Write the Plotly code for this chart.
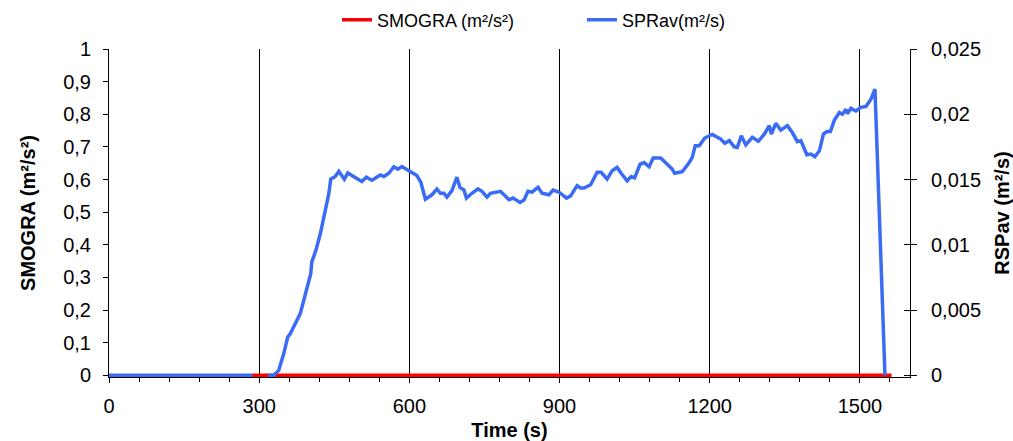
import plotly.graph_objects as go

# ---- data ----
time_rspav = [0, 286, 300, 318, 329, 339, 349, 357, 362, 372, 382, 389, 403, 405, 413, 422, 432, 439,
              443, 452, 459, 470, 477, 489, 505, 514, 525, 542, 549, 559, 569, 577, 585, 599,
              615, 623, 632, 645, 655, 662, 669, 675, 685, 695, 701, 709, 714, 725, 737, 745,
              755, 762, 782, 799, 807, 821, 829, 837, 845, 857, 865, 879, 887, 899, 914, 922,
              935, 942, 949, 962, 975, 983, 995, 1005, 1015, 1023, 1035, 1043, 1050, 1061, 1069,
              1079, 1087, 1102, 1115, 1125, 1130, 1145, 1159, 1165, 1171, 1179, 1190, 1205, 1222,
              1230, 1239, 1249, 1255, 1263, 1272, 1285, 1297, 1309, 1319, 1323, 1332, 1342, 1355,
              1365, 1375, 1382, 1394, 1402, 1410, 1419, 1427, 1434, 1441, 1449, 1459, 1465, 1472,
              1475, 1482, 1492, 1502, 1512, 1522, 1530, 1550]
rspav = [0, 0, None, 0, 0, 0.00038, 0.00165, 0.00293, 0.00318, 0.00395, 0.00473, 0.00573, 0.00778,
         0.00868, 0.00955, 0.01083, 0.01263, 0.0139,
         0.01503, 0.01523, 0.01563, 0.01503, 0.0155, 0.01525, 0.01485, 0.01518, 0.01495, 0.01535,
         0.01523, 0.01548, 0.01598, 0.0158, 0.016, 0.01568,
         0.0153, 0.01478, 0.0135, 0.01383, 0.01428, 0.01395, 0.01395, 0.01365, 0.01415, 0.01518,
         0.0144, 0.0142, 0.01358, 0.01395, 0.01428, 0.0141,
         0.01365, 0.01395, 0.0141, 0.01345, 0.01358, 0.01325, 0.01343, 0.0141, 0.01403, 0.0144,
         0.01395, 0.01383, 0.0142, 0.01403, 0.01358, 0.01375,
         0.01453, 0.01435, 0.01435, 0.0146, 0.01555, 0.01555, 0.01503, 0.01568, 0.01593, 0.01548,
         0.0149, 0.01523, 0.01513, 0.01618, 0.0163,
         0.01598, 0.01665, 0.01665, 0.01613, 0.0158, 0.01548, 0.0156, 0.0163, 0.0167, 0.01758,
         0.01758, 0.01818, 0.01845, 0.0181,
         0.01778, 0.01798, 0.0175, 0.01745, 0.01835, 0.01765, 0.01823, 0.01793, 0.01848, 0.01913,
         0.01848, 0.0193, 0.01878, 0.01913,
         0.0186, 0.0179, 0.01798, 0.0169, 0.01695, 0.01675, 0.0172, 0.01848, 0.01868, 0.01868,
         0.01955, 0.02013, 0.02, 0.02038,
         0.02005, 0.02045, 0.02025, 0.02053, 0.0206, 0.02115, 0.02193, 0]

time_smogra = [286, 1563]
smogra = [0, 0]

x_ticks = [0, 300, 600, 900, 1200, 1500]
y1_ticks = [0, 0.1, 0.2, 0.3, 0.4, 0.5, 0.6, 0.7, 0.8, 0.9, 1]
y1_labels = ["0", "0,1", "0,2", "0,3", "0,4", "0,5", "0,6", "0,7", "0,8", "0,9", "1"]
y2_ticks = [0, 0.005, 0.01, 0.015, 0.02, 0.025]
y2_labels = ["0", "0,005", "0,01", "0,015", "0,02", "0,025"]

FONT = "Liberation Sans, Arial, sans-serif"
TICKFONT = dict(family=FONT, size=20, color="#000000")
TITLEFONT = dict(family=FONT, size=20, color="#000000")

fig = go.Figure()
fig.add_trace(go.Scatter(x=time_smogra, y=smogra, mode="lines", name="SMOGRA (m²/s²)",
                         line=dict(color="#FF0000", width=3.5), yaxis="y"))
fig.add_trace(go.Scatter(x=time_rspav, y=rspav, mode="lines", name="SPRav(m²/s)",
                         line=dict(color="#3A6BF5", width=3.5), yaxis="y2", connectgaps=False))
# invisible helper trace for inside ticks on right axis
fig.add_trace(go.Scatter(x=[0], y=[0], mode="lines", yaxis="y3", showlegend=False,
                         hoverinfo="skip", line=dict(width=0, color="rgba(0,0,0,0)")))

fig.update_layout(
    width=1013, height=441,
    margin=dict(l=109, r=103, t=49, b=64, autoexpand=False),
    paper_bgcolor="white", plot_bgcolor="white",
    font=dict(family=FONT, size=18, color="#000000"),
    showlegend=True,
    legend=dict(orientation="h", x=(337 - 109) / 801, xanchor="left", y=1.088, yanchor="middle",
                font=dict(family=FONT, size=18, color="#000000"), bgcolor="rgba(0,0,0,0)",
                entrywidth=200, entrywidthmode="pixels"),
    xaxis=dict(range=[0, 1600], tickvals=x_ticks, ticks="outside", ticklen=5, tickcolor="black",
               showline=True, linecolor="black", linewidth=1, automargin=False,
               showgrid=True, gridcolor="black", gridwidth=1, zeroline=False,
               minor=dict(dtick=60, tick0=0, ticks="outside", ticklen=4, tickcolor="black",
                          showgrid=False),
               tickfont=TICKFONT, ticklabelstandoff=6,
               title=dict(text="<b>Time (s)</b>", font=TITLEFONT, standoff=8)),
    yaxis=dict(range=[-0.005, 1], tickvals=y1_ticks, ticktext=y1_labels, ticks="outside",
               ticklen=5, tickcolor="black", showline=True, linecolor="black", linewidth=1,
               showgrid=False, zeroline=False, ticklabelstandoff=8, tickfont=TICKFONT,
               automargin=False,
               title=dict(text="<b>SMOGRA (m²/s²)</b>", font=TITLEFONT, standoff=22)),
    yaxis2=dict(range=[-0.000125, 0.025], overlaying="y", side="right", tickvals=y2_ticks,
                ticktext=y2_labels, ticks="outside", ticklen=6, tickcolor="black",
                showline=True, linecolor="black", linewidth=1, showgrid=False, zeroline=False,
                ticklabelstandoff=10, tickfont=TICKFONT, automargin=False,
                title=dict(text="<b>RSPav (m²/s)</b>", font=TITLEFONT, standoff=14)),
    yaxis3=dict(range=[-0.000125, 0.025], overlaying="y", side="right", tickvals=y2_ticks,
                ticks="inside", ticklen=6, tickcolor="black", showticklabels=False,
                showline=False, showgrid=False, zeroline=False, automargin=False),
)

fig.write_html("out.html")
